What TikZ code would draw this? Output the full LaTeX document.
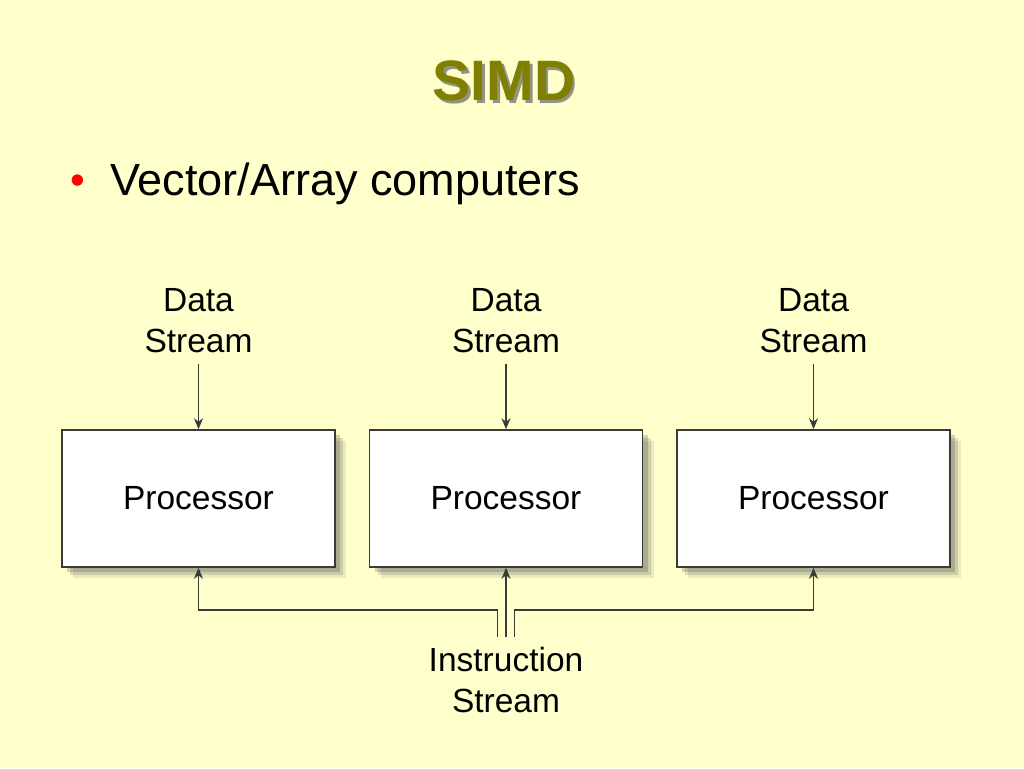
\documentclass[tikz,border=0pt]{standalone}
\usepackage{fontspec}
\setmainfont{Liberation Sans}
\usepackage{tikz}
\usetikzlibrary{positioning,arrows.meta,shadows}

\definecolor{slidebg}{HTML}{FFFFCC}
\definecolor{titleolive}{HTML}{808000}
\definecolor{linegrey}{HTML}{3A3A3A}

\begin{document}
\begin{tikzpicture}[x=1pt,y=-1pt,
  proc/.style={draw=linegrey,fill=white,line width=1.6pt,minimum width=273pt,minimum height=137pt,inner sep=0pt,font=\fontsize{33.5}{41}\selectfont,
    drop shadow={shadow xshift=11pt,shadow yshift=-11pt,opacity=0.12,fill=black!70},
    drop shadow={shadow xshift=8pt,shadow yshift=-8pt,opacity=0.18,fill=black!70},
    drop shadow={shadow xshift=5pt,shadow yshift=-5pt,opacity=0.25,fill=black!70}},
  lbl/.style={align=center,inner xsep=0pt,inner ysep=11pt,font=\fontsize{33.5}{41}\selectfont},
  tip/.style={draw=linegrey,line width=1.5pt,-{Stealth[length=11pt,width=9pt]}}]
\useasboundingbox[fill=slidebg] (0,0) rectangle (1024,768);
% title and bullet
\node[font=\fontsize{57}{60}\selectfont\bfseries,text=black!60,opacity=0.7] (titleshadow) at (506.5,83.5) {SIMD};
\node[font=\fontsize{57}{60}\selectfont\bfseries,text=titleolive] (title) at (504,81) {SIMD};
\node[anchor=base,text=red,font=\fontsize{42}{50}\selectfont] (bullet) at (78,194) {\textbullet};
\node[anchor=base west,inner sep=0pt,font=\fontsize{45}{50}\selectfont] (item) at (110,195) {Vector/Array computers};
% processors with their data streams
\foreach \i/\x in {1/198.5,2/506,3/813.5} {
  \node[proc] (proc\i) at (\x,498.5) {Processor};
  \node[lbl] (data\i) at (\x,321) {Data\\Stream};
  \draw[tip] (data\i.south) -- (proc\i.north);
}
% instruction stream
\node[lbl] (instr) at (506,680.5) {Instruction\\Stream};
\coordinate (jl) at ([xshift=-8.5pt]instr.north);
\coordinate (jr) at ([xshift=8.5pt]instr.north);
\coordinate (busl) at (198.5,610);
\coordinate (busr) at (813.5,610);
\draw[tip] (instr.north) -- (proc2.south);
\draw[tip] (jl) |- (busl) -- (proc1.south);
\draw[tip] (jr) |- (busr) -- (proc3.south);
\end{tikzpicture}
\end{document}
